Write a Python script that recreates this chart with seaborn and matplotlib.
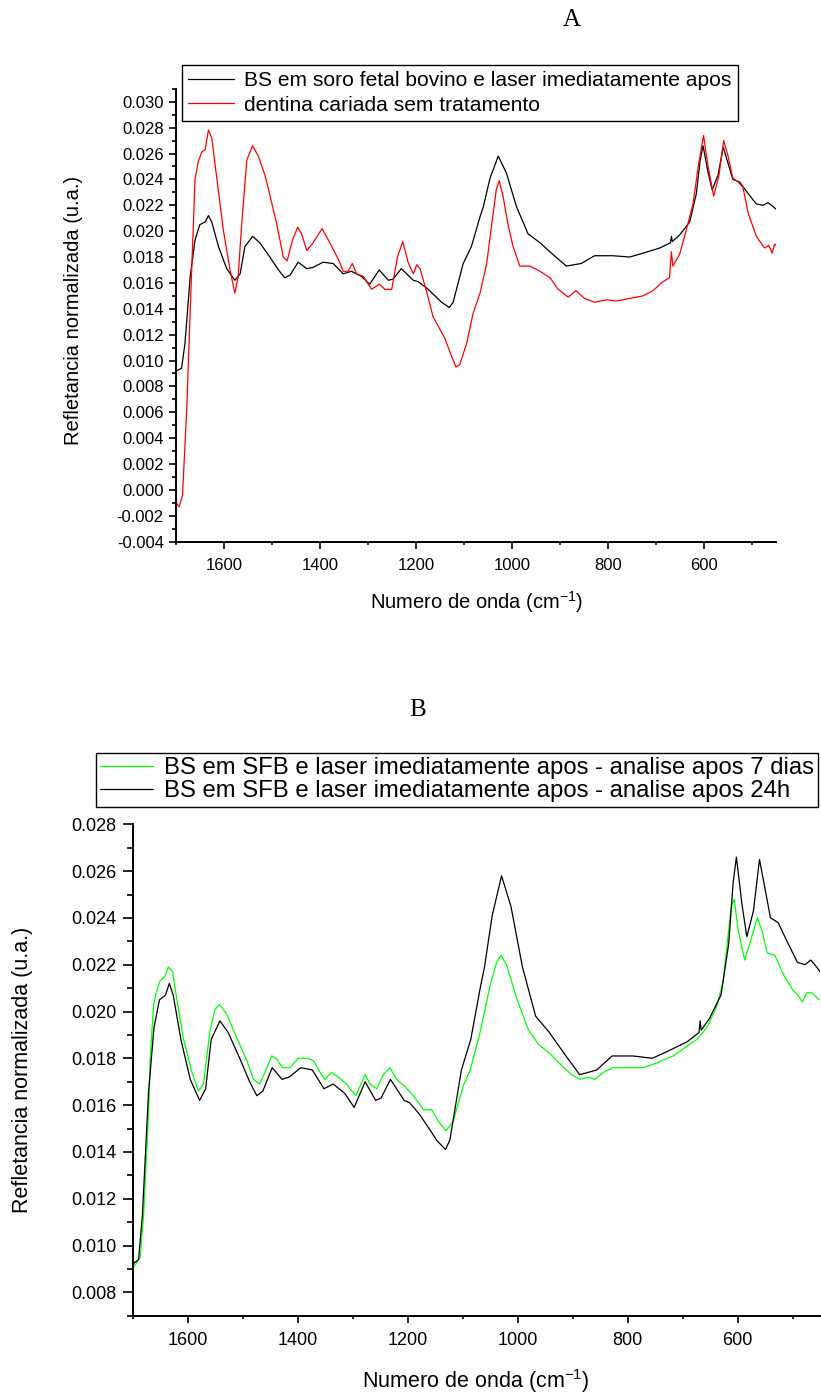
import numpy as np
import pandas as pd
import matplotlib
matplotlib.use('Agg')
import matplotlib.pyplot as plt
import seaborn as sns
from matplotlib.ticker import MultipleLocator, FormatStrFormatter

# Spectra (wavenumber in cm-1, normalised reflectance)
wn_black = [1700, 1689, 1682, 1671, 1661, 1651, 1640, 1633, 1626, 1612, 1595, 1578, 1567,
            1557, 1541, 1526, 1505, 1487, 1474, 1463, 1446, 1428, 1415, 1394, 1373, 1352,
            1335, 1314, 1297, 1277, 1258, 1248, 1231, 1206, 1196, 1178, 1158, 1147, 1131,
            1123, 1102, 1085, 1067, 1060, 1046, 1029, 1012, 991, 967, 942, 915, 887, 856,
            828, 790, 755, 727, 692, 670, 668, 666, 651, 630, 616, 608, 602, 592, 583, 571,
            560, 540, 526, 508, 491, 477, 467, 456, 450]
refl_black = [0.0092, 0.0094, 0.0113, 0.0165, 0.0193, 0.0205, 0.0207, 0.0212, 0.0207, 0.0188,
              0.0171, 0.0162, 0.0167, 0.0188, 0.0196, 0.0191, 0.0180, 0.0170, 0.0164, 0.0166,
              0.0176, 0.0171, 0.0172, 0.0176, 0.0175, 0.0167, 0.0169, 0.0165, 0.0159, 0.0170,
              0.0162, 0.0163, 0.0171, 0.0162, 0.0161, 0.0156, 0.0149, 0.0145, 0.0141, 0.0145,
              0.0175, 0.0188, 0.0211, 0.0219, 0.0241, 0.0258, 0.0245, 0.0219, 0.0198, 0.0191,
              0.0182, 0.0173, 0.0175, 0.0181, 0.0181, 0.0180, 0.0183, 0.0187, 0.0191, 0.0196,
              0.0192, 0.0197, 0.0207, 0.0229, 0.0255, 0.0266, 0.0246, 0.0232, 0.0243, 0.0265,
              0.0240, 0.0238, 0.0229, 0.0221, 0.0220, 0.0222, 0.0219, 0.0217]

wn_red = [1700, 1694, 1687, 1678, 1671, 1661, 1654, 1647, 1640, 1633, 1626, 1616, 1602,
          1588, 1578, 1571, 1564, 1553, 1541, 1529, 1515, 1505, 1491, 1477, 1469, 1458,
          1447, 1439, 1428, 1415, 1396, 1380, 1362, 1352, 1342, 1333, 1324, 1310, 1293,
          1277, 1265, 1251, 1239, 1228, 1217, 1206, 1199, 1192, 1178, 1165, 1140, 1126,
          1117, 1109, 1095, 1081, 1067, 1053, 1043, 1033, 1027, 1019, 1008, 998, 984, 963,
          942, 921, 904, 883, 867, 849, 828, 803, 783, 755, 727, 706, 689, 672, 668, 665,
          651, 637, 623, 612, 601, 592, 580, 569, 559, 550, 540, 529, 519, 508, 491, 474,
          465, 458, 453, 450]
refl_red = [-0.0010, -0.0013, -0.0004, 0.0065, 0.0139, 0.0240, 0.0254, 0.0261, 0.0263,
            0.0278, 0.0272, 0.0242, 0.0201, 0.0170, 0.0152, 0.0165, 0.0204, 0.0255, 0.0266,
            0.0258, 0.0243, 0.0228, 0.0206, 0.0180, 0.0177, 0.0193, 0.0203, 0.0198, 0.0185,
            0.0191, 0.0202, 0.0191, 0.0178, 0.0169, 0.0169, 0.0175, 0.0167, 0.0165, 0.0155,
            0.0159, 0.0155, 0.0155, 0.0180, 0.0192, 0.0176, 0.0167, 0.0174, 0.0171, 0.0153,
            0.0134, 0.0117, 0.0103, 0.0095, 0.0097, 0.0113, 0.0137, 0.0152, 0.0175, 0.0204,
            0.0232, 0.0239, 0.0227, 0.0204, 0.0188, 0.0173, 0.0173, 0.0169, 0.0164, 0.0155,
            0.0149, 0.0154, 0.0148, 0.0145, 0.0147, 0.0146, 0.0148, 0.0150, 0.0154, 0.0160,
            0.0164, 0.0184, 0.0173, 0.0182, 0.0201, 0.0221, 0.0250, 0.0274, 0.0251, 0.0227,
            0.0243, 0.0270, 0.0258, 0.0241, 0.0238, 0.0234, 0.0214, 0.0196, 0.0187, 0.0189,
            0.0183, 0.0190, 0.0189]

wn_green = [1700, 1686, 1680, 1674, 1670, 1668, 1662, 1657, 1650, 1641, 1635, 1627, 1620,
            1608, 1592, 1580, 1571, 1559, 1550, 1542, 1529, 1511, 1492, 1480, 1469, 1459,
            1447, 1439, 1427, 1414, 1399, 1383, 1371, 1359, 1350, 1338, 1326, 1311, 1294,
            1277, 1268, 1256, 1244, 1232, 1220, 1205, 1189, 1171, 1156, 1144, 1130, 1117,
            1099, 1086, 1068, 1050, 1038, 1030, 1020, 1002, 980, 962, 941, 920, 902, 886,
            871, 859, 844, 826, 802, 771, 747, 717, 693, 674, 656, 638, 626, 617, 611, 606,
            599, 587, 574, 564, 556, 546, 532, 517, 499, 490, 482, 474, 465, 456, 451]
refl_green = [0.0090, 0.0095, 0.0112, 0.0141, 0.0162, 0.0179, 0.0202, 0.0208, 0.0213,
              0.0215, 0.0219, 0.0217, 0.0206, 0.0189, 0.0174, 0.0166, 0.0169, 0.0192, 0.0201,
              0.0203, 0.0199, 0.0189, 0.0179, 0.0171, 0.0169, 0.0174, 0.0181, 0.0180, 0.0176,
              0.0176, 0.0180, 0.0180, 0.0179, 0.0174, 0.0171, 0.0174, 0.0172, 0.0169, 0.0164,
              0.0173, 0.0169, 0.0167, 0.0173, 0.0176, 0.0171, 0.0168, 0.0164, 0.0158, 0.0158,
              0.0153, 0.0149, 0.0153, 0.0168, 0.0175, 0.0191, 0.0211, 0.0221, 0.0224, 0.0220,
              0.0206, 0.0192, 0.0186, 0.0182, 0.0177, 0.0173, 0.0171, 0.0172, 0.0171, 0.0174,
              0.0176, 0.0176, 0.0176, 0.0178, 0.0181, 0.0185, 0.0188, 0.0193, 0.0202, 0.0213,
              0.0233, 0.0245, 0.0248, 0.0235, 0.0222, 0.0232, 0.0240, 0.0235, 0.0225, 0.0224,
              0.0216, 0.0209, 0.0207, 0.0204, 0.0208, 0.0208, 0.0206, 0.0205]

label_a_black = 'BS em soro fetal bovino e laser imediatamente apos'
label_a_red = 'dentina cariada sem tratamento'
label_b_green = 'BS em SFB e laser imediatamente apos - analise apos 7 dias'
label_b_black = 'BS em SFB e laser imediatamente apos - analise apos 24h'

sns.set_style('ticks')
plt.rcParams['font.family'] = ['Liberation Sans', 'DejaVu Sans']
plt.rcParams['axes.unicode_minus'] = False
plt.rcParams['mathtext.default'] = 'regular'
plt.rcParams['text.color'] = 'black'
plt.rcParams['axes.labelcolor'] = 'black'

df_black = pd.DataFrame({'wn': wn_black, 'r': refl_black})
df_red = pd.DataFrame({'wn': wn_red, 'r': refl_red})
df_green = pd.DataFrame({'wn': wn_green, 'r': refl_green})

W, H = 821, 1394
fig = plt.figure(figsize=(W / 100, H / 100), dpi=100)


def px_axes(left, right, top, bottom):
    return fig.add_axes([left / W, 1 - bottom / H, (right - left) / W, (bottom - top) / H])


def style_axis(ax, ylim, ticksize, labelsize, ylen):
    ax.set_xlim(1700, 450)
    ax.set_ylim(*ylim)
    sns.despine(ax=ax)
    for s in ['left', 'bottom']:
        ax.spines[s].set_linewidth(1.4)
        ax.spines[s].set_color('black')
    ax.xaxis.set_major_locator(MultipleLocator(200))
    ax.xaxis.set_minor_locator(MultipleLocator(100))
    ax.yaxis.set_major_locator(MultipleLocator(0.002))
    ax.yaxis.set_minor_locator(MultipleLocator(0.001))
    ax.yaxis.set_major_formatter(FormatStrFormatter('%.3f'))
    ax.tick_params(which='major', length=5, width=1.2, direction='out', labelsize=ticksize,
                   color='black', labelcolor='black')
    ax.tick_params(which='minor', length=2.5, width=1.2, direction='out', color='black')
    ax.tick_params(axis='y', which='major', length=ylen, pad=4)
    ax.tick_params(axis='y', which='minor', length=ylen * 0.55)
    ax.tick_params(axis='x', pad=7)
    ax.set_xlabel('Numero de onda (cm$^{-1}$)', fontsize=labelsize)
    ax.set_ylabel('Refletancia normalizada (u.a.)', fontsize=labelsize)


def add_legend(ax, x, y, size, spacing, pad):
    leg = ax.legend(loc='upper left', bbox_to_anchor=(x / W, 1 - y / H),
                    bbox_transform=fig.transFigure, fontsize=size, frameon=True,
                    fancybox=False, edgecolor='black', framealpha=1, borderaxespad=0,
                    borderpad=pad, handlelength=2.2, handletextpad=0.45,
                    labelspacing=spacing)
    leg.get_frame().set_linewidth(1.0)


# Panel A
ax1 = px_axes(176.3, 776, 88.8, 541.7)
sns.lineplot(data=df_black, x='wn', y='r', ax=ax1, color='black', lw=0.9,
             estimator=None, label=label_a_black)
sns.lineplot(data=df_red, x='wn', y='r', ax=ax1, color='#ff0000', lw=0.9,
             estimator=None, label=label_a_red)
style_axis(ax1, (-0.004, 0.031), 12, 14.5, 5)
ax1.xaxis.set_label_coords(0.5, -0.105)
ax1.yaxis.set_label_coords(-0.155, 0.51)
add_legend(ax1, 182, 65, 15.1, 0.25, 0.3)
fig.text(572 / W, 1 - 20 / H, 'A', ha='center', va='center', fontsize=18,
         family='Liberation Serif')

# Panel B
ax2 = px_axes(132.5, 820, 824.3, 1315.7)
sns.lineplot(data=df_green, x='wn', y='r', ax=ax2, color='#00ff00', lw=0.9,
             estimator=None, label=label_b_green)
sns.lineplot(data=df_black, x='wn', y='r', ax=ax2, color='black', lw=0.9,
             estimator=None, label=label_b_black)
style_axis(ax2, (0.007, 0.028), 13, 15.5, 7.5)
ax2.xaxis.set_label_coords(0.5, -0.105)
ax2.yaxis.set_label_coords(-0.145, 0.5)
add_legend(ax2, 96, 753, 17.2, 0.05, 0.18)
fig.text(418 / W, 1 - 710 / H, 'B', ha='center', va='center', fontsize=18,
         family='Liberation Serif')

fig.savefig('out.png', dpi=100, facecolor='white')
